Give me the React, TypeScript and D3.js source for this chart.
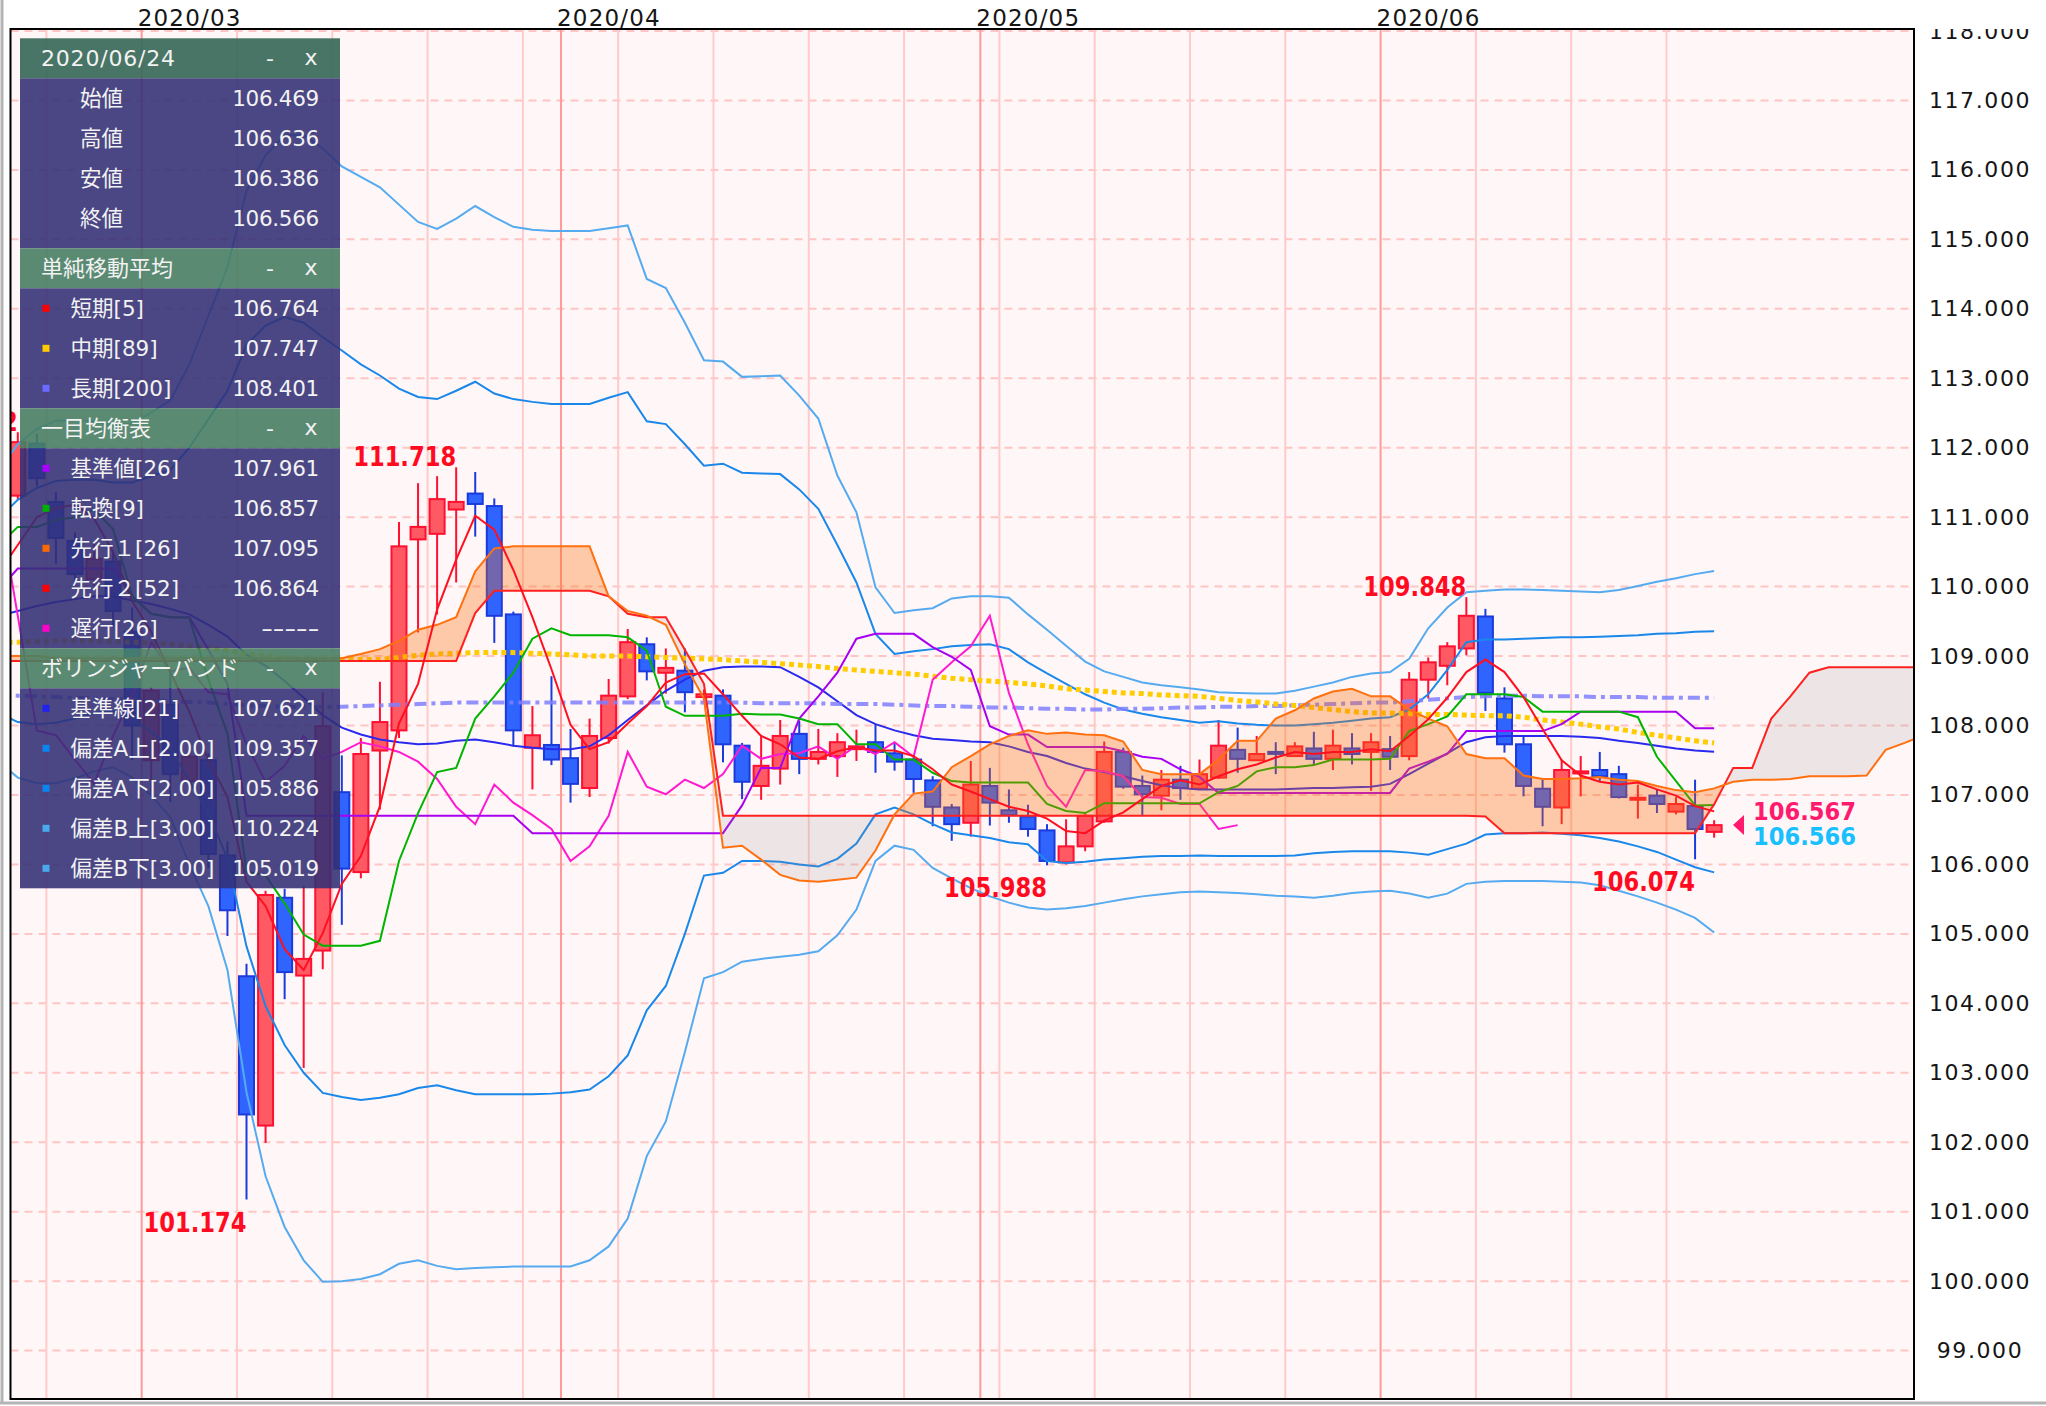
import React from 'react';
import * as d3 from 'd3';

// USD/JPY daily, 2020/02/19 .. 2020/06/24 (weekdays)
const firstDay = '2020-02-19';
const lastDay = '2020-06-24';

const opens = [
  109.90, 111.31, 112.06, 111.22, 110.66, 110.11, 110.36, 109.35, 107.50, 108.30,
  107.20, 107.50, 106.13, 104.39, 102.24, 105.52, 104.40, 104.76, 107.04, 105.89,
  107.64, 107.93, 110.68, 110.76, 111.11, 111.34, 111.16, 109.60, 107.68, 107.72,
  107.53, 107.10, 107.82, 108.42, 109.17, 108.76, 108.79, 108.41, 108.43, 107.71,
  107.13, 107.38, 107.88, 107.52, 107.56, 107.66, 107.76, 107.60, 107.51, 107.21,
  106.82, 106.60, 107.13, 106.78, 106.69, 106.49, 106.03, 106.26, 106.62, 107.62,
  107.13, 106.99, 107.22, 107.09, 107.25, 107.65, 107.50, 107.62, 107.56, 107.67,
  107.52, 107.67, 107.62, 107.66, 107.56, 108.66, 108.86, 109.11, 109.57, 108.39,
  107.73, 107.09, 106.82, 107.31, 107.36, 107.30, 106.94, 106.99, 106.76, 106.84,
  106.469,
];
const highs = [
  111.59, 112.222, 112.20, 111.36, 110.78, 110.62, 110.50, 109.70, 108.55, 108.80,
  107.70, 107.60, 106.33, 104.57, 105.62, 105.65, 105.69, 108.48, 107.57, 107.82,
  108.63, 110.93, 111.49, 111.59, 111.718, 111.65, 111.27, 109.64, 108.28, 108.71,
  107.95, 108.10, 108.67, 109.39, 109.27, 109.11, 109.11, 108.52, 108.52, 107.75,
  107.86, 108.08, 108.07, 107.95, 107.89, 107.94, 108.02, 107.76, 107.56, 107.27,
  106.87, 107.49, 107.39, 107.08, 106.86, 106.58, 106.65, 106.74, 107.77, 107.68,
  107.28, 107.36, 107.42, 107.51, 108.08, 107.97, 107.85, 107.76, 107.76, 107.91,
  107.94, 107.89, 107.89, 107.85, 108.77, 108.98, 109.20, 109.848, 109.68, 108.55,
  107.85, 107.23, 107.51, 107.56, 107.62, 107.42, 107.15, 107.08, 106.97, 107.22,
  106.636,
];
const lows = [
  109.85, 111.25, 111.45, 110.33, 110.00, 110.00, 109.43, 107.50, 107.00, 106.90,
  107.00, 105.95, 104.97, 101.174, 101.99, 104.06, 103.07, 104.49, 105.13, 105.80,
  106.79, 107.82, 109.34, 109.60, 110.06, 110.72, 109.19, 107.70, 107.08, 107.43,
  106.89, 106.97, 107.74, 108.38, 108.65, 108.46, 108.19, 108.36, 107.47, 106.94,
  106.93, 107.15, 107.30, 107.44, 107.26, 107.49, 107.32, 107.35, 107.03, 106.55,
  106.34, 106.40, 106.56, 106.60, 106.40, 105.988, 106.00, 106.19, 106.60, 107.09,
  106.71, 106.78, 106.93, 107.07, 107.23, 107.32, 107.49, 107.30, 107.55, 107.43,
  107.36, 107.44, 107.06, 107.36, 107.50, 108.39, 108.58, 109.01, 108.21, 107.61,
  106.98, 106.55, 106.58, 106.98, 107.19, 106.95, 106.66, 106.74, 106.72, 106.074,
  106.386,
];
const closes = [
  111.40, 112.08, 111.56, 110.70, 110.18, 110.40, 109.65, 108.00, 108.50, 107.30,
  107.55, 106.15, 105.34, 102.40, 105.56, 104.45, 104.64, 107.99, 105.94, 107.59,
  108.05, 110.58, 110.86, 111.26, 111.22, 111.19, 109.58, 107.93, 107.86, 107.51,
  107.16, 107.85, 108.43, 109.20, 108.78, 108.83, 108.48, 108.45, 107.73, 107.19,
  107.42, 107.85, 107.52, 107.62, 107.76, 107.70, 107.62, 107.48, 107.23, 106.83,
  106.58, 107.15, 106.89, 106.71, 106.51, 106.05, 106.26, 106.70, 107.62, 107.12,
  107.01, 107.22, 107.10, 107.30, 107.71, 107.52, 107.59, 107.60, 107.70, 107.52,
  107.71, 107.59, 107.76, 107.55, 108.66, 108.91, 109.14, 109.58, 108.47, 107.73,
  107.13, 106.83, 107.36, 107.34, 107.27, 106.97, 106.96, 106.87, 106.87, 106.51,
  106.566,
];

// simple moving averages
const sma5 = [
  110.20, 110.60, 111.00, 111.13, 111.18, 110.98, 110.50, 109.79, 109.35, 108.77,
  108.20, 107.50, 106.97, 105.75, 105.40, 104.78, 104.48, 105.01, 105.72, 106.12,
  106.84, 108.03, 108.60, 109.67, 110.39, 111.02, 110.82, 110.24, 109.56, 108.81,
  108.01, 107.66, 107.76, 108.03, 108.28, 108.62, 108.74, 108.75, 108.45, 108.14,
  107.85, 107.73, 107.54, 107.52, 107.63, 107.69, 107.64, 107.64, 107.56, 107.37,
  107.15, 107.05, 106.94, 106.83, 106.77, 106.66, 106.48, 106.45, 106.63, 106.75,
  106.94, 107.13, 107.21, 107.15, 107.27, 107.37, 107.44, 107.54, 107.62, 107.59,
  107.62, 107.62, 107.66, 107.63, 107.85, 108.09, 108.40, 108.77, 108.95, 108.77,
  108.41, 107.95, 107.50, 107.28, 107.19, 107.15, 107.18, 107.08, 106.99, 106.84,
  106.764,
];
const sma89 = [
  109.20, 109.20, 109.21, 109.22, 109.22, 109.22, 109.21, 109.20, 109.19, 109.17,
  109.15, 109.12, 109.08, 109.03, 109.00, 108.97, 108.95, 108.95, 108.95, 108.95,
  108.95, 108.98, 109.01, 109.03, 109.04, 109.05, 109.05, 109.05, 109.04, 109.03,
  109.02, 109.00, 109.00, 109.00, 108.99, 108.98, 108.97, 108.96, 108.95, 108.93,
  108.91, 108.89, 108.87, 108.85, 108.82, 108.80, 108.78, 108.76, 108.74, 108.71,
  108.68, 108.66, 108.64, 108.62, 108.60, 108.57, 108.53, 108.51, 108.49, 108.47,
  108.46, 108.44, 108.43, 108.42, 108.39, 108.36, 108.34, 108.31, 108.29, 108.26,
  108.23, 108.20, 108.18, 108.18, 108.17, 108.16, 108.16, 108.15, 108.14, 108.14,
  108.12, 108.08, 108.05, 108.02, 107.98, 107.95, 107.90, 107.86, 107.82, 107.78,
  107.747,
];
const sma200 = [
  108.44, 108.43, 108.42, 108.41, 108.40, 108.39, 108.38, 108.37, 108.36, 108.35,
  108.34, 108.33, 108.31, 108.29, 108.28, 108.27, 108.27, 108.27, 108.27, 108.28,
  108.29, 108.30, 108.31, 108.32, 108.33, 108.33, 108.33, 108.33, 108.33, 108.33,
  108.33, 108.33, 108.33, 108.33, 108.33, 108.33, 108.33, 108.33, 108.33, 108.33,
  108.32, 108.32, 108.32, 108.32, 108.31, 108.31, 108.31, 108.30, 108.29, 108.28,
  108.28, 108.27, 108.26, 108.26, 108.25, 108.24, 108.24, 108.23, 108.23, 108.24,
  108.24, 108.25, 108.26, 108.26, 108.27, 108.27, 108.28, 108.28, 108.29, 108.30,
  108.31, 108.32, 108.33, 108.33, 108.35, 108.37, 108.39, 108.41, 108.42, 108.43,
  108.43, 108.42, 108.42, 108.42, 108.41, 108.41, 108.41, 108.40, 108.40, 108.40,
  108.401,
];

// ichimoku
const tenkan = [
  110.60, 110.86, 110.86, 110.96, 111.00, 111.11, 110.83, 109.86, 109.61, 109.56,
  109.55, 108.66, 107.88, 105.90, 105.84, 105.44, 104.99, 104.83, 104.83, 104.83,
  104.90, 106.05, 106.74, 107.33, 107.39, 108.10, 108.42, 108.76, 109.25, 109.40,
  109.30, 109.30, 109.30, 109.27, 109.08, 108.27, 108.14, 108.14, 108.14, 108.17,
  108.16, 108.16, 108.10, 108.02, 108.02, 107.73, 107.73, 107.51, 107.51, 107.32,
  107.20, 107.18, 107.18, 107.18, 107.18, 106.87, 106.77, 106.74, 106.88, 106.88,
  106.88, 106.88, 106.88, 106.88, 107.04, 107.13, 107.34, 107.40, 107.40, 107.43,
  107.51, 107.51, 107.51, 107.52, 107.92, 108.02, 108.13, 108.45, 108.45, 108.45,
  108.41, 108.20, 108.20, 108.20, 108.20, 108.20, 108.12, 107.55, 107.20, 106.85,
  106.857,
];
const kijun = [
  109.95, 110.26, 110.26, 110.26, 110.26, 110.26, 110.26, 109.86, 109.61, 109.56,
  109.56, 109.09, 108.60, 106.70, 106.70, 106.70, 106.70, 106.70, 106.70, 106.70,
  106.70, 106.70, 106.70, 106.70, 106.70, 106.70, 106.70, 106.70, 106.45, 106.45,
  106.45, 106.45, 106.45, 106.45, 106.45, 106.45, 106.45, 106.45, 106.45, 106.85,
  107.39, 107.39, 108.10, 108.42, 108.76, 109.25, 109.32, 109.32, 109.32, 109.13,
  108.99, 108.80, 107.99, 107.87, 107.87, 107.69, 107.69, 107.69, 107.69, 107.63,
  107.55, 107.52, 107.37, 107.26, 107.03, 107.03, 107.03, 107.03, 107.03, 107.03,
  107.03, 107.03, 107.03, 107.03, 107.38, 107.48, 107.59, 107.92, 107.92, 107.92,
  107.92, 107.92, 108.02, 108.20, 108.20, 108.20, 108.20, 108.20, 108.20, 107.96,
  107.961,
];
// leading spans, already plotted 25 bars ahead (first value sits on 2020/02/19)
const senkouA = [
  109.00, 109.00, 109.00, 108.97, 108.97, 108.97, 108.97, 108.97, 108.97, 108.97,
  108.97, 108.97, 108.97, 108.97, 108.97, 108.97, 108.97, 108.97, 108.97, 109.03,
  109.10, 109.22, 109.38, 109.45, 109.56, 110.22, 110.55, 110.58, 110.58, 110.58,
  110.58, 110.58, 109.86, 109.65, 109.58, 109.45, 108.88, 108.39, 106.24, 106.27,
  106.07, 105.85, 105.77, 105.75, 105.78, 105.81, 106.20, 106.72, 107.02, 107.05,
  107.40, 107.56, 107.73, 107.85, 107.93, 107.88, 107.90, 107.87, 107.86, 107.77,
  107.36, 107.30, 107.30, 107.30, 107.51, 107.78, 107.78, 108.10, 108.22, 108.39,
  108.49, 108.53, 108.42, 108.42, 108.23, 108.10, 107.99, 107.59, 107.53, 107.53,
  107.28, 107.23, 107.23, 107.24, 107.26, 107.22, 107.20, 107.13, 107.07, 107.04,
  107.095, 107.19, 107.22, 107.22, 107.23, 107.27, 107.27, 107.27, 107.28, 107.65,
  107.75, 107.86, 108.19,
];
const senkouB = [
  108.93, 108.93, 108.93, 108.93, 108.93, 108.93, 108.93, 108.93, 108.93, 108.93,
  108.93, 108.93, 108.93, 108.93, 108.93, 108.93, 108.93, 108.93, 108.93, 108.93,
  108.93, 108.93, 108.93, 108.93, 108.93, 109.62, 109.94, 109.94, 109.94, 109.94,
  109.94, 109.94, 109.86, 109.61, 109.56, 109.56, 109.09, 108.60, 106.70, 106.70,
  106.70, 106.70, 106.70, 106.70, 106.70, 106.70, 106.70, 106.70, 106.70, 106.70,
  106.70, 106.70, 106.70, 106.70, 106.70, 106.70, 106.70, 106.70, 106.70, 106.70,
  106.70, 106.70, 106.70, 106.70, 106.70, 106.70, 106.70, 106.70, 106.70, 106.70,
  106.70, 106.70, 106.70, 106.70, 106.70, 106.70, 106.70, 106.70, 106.69, 106.45,
  106.45, 106.45, 106.45, 106.45, 106.45, 106.45, 106.45, 106.45, 106.45, 106.45,
  106.864, 107.39, 107.39, 108.10, 108.42, 108.76, 108.84, 108.84, 108.84, 108.84,
  108.84, 108.84, 108.84,
];
// lagging span, plotted 25 bars back (first value sits on 2020/02/19)
const chikou = [
  111.19, 109.58, 107.93, 107.86, 107.51, 107.16, 107.85, 108.43, 109.20, 108.78,
  108.83, 108.48, 108.45, 107.73, 107.19, 107.42, 107.85, 107.52, 107.62, 107.76,
  107.70, 107.62, 107.48, 107.23, 106.83, 106.58, 107.15, 106.89, 106.71, 106.51,
  106.05, 106.26, 106.70, 107.62, 107.12, 107.01, 107.22, 107.10, 107.30, 107.71,
  107.52, 107.59, 107.60, 107.70, 107.52, 107.71, 107.59, 107.76, 107.55, 108.66,
  108.91, 109.14, 109.58, 108.47, 107.73, 107.13, 106.83, 107.36, 107.34, 107.27,
  106.97, 106.96, 106.87, 106.87, 106.51, 106.566,
];

// bollinger bands (21)
const bbMid = [
  109.58, 109.65, 109.72, 109.78, 109.82, 109.86, 109.86, 109.80, 109.75, 109.68,
  109.60, 109.45, 109.28, 109.02, 108.86, 108.64, 108.40, 108.15, 107.97, 107.87,
  107.80, 107.76, 107.73, 107.74, 107.78, 107.80, 107.76, 107.71, 107.68, 107.66,
  107.66, 107.70, 107.86, 108.08, 108.29, 108.50, 108.66, 108.79, 108.84, 108.85,
  108.85, 108.84, 108.70, 108.55, 108.35, 108.15, 108.02, 107.93, 107.86, 107.81,
  107.79, 107.77, 107.76, 107.70, 107.62, 107.56, 107.46, 107.38, 107.33, 107.27,
  107.20, 107.14, 107.10, 107.08, 107.08, 107.08, 107.08, 107.08, 107.09, 107.10,
  107.10, 107.11, 107.12, 107.16, 107.30, 107.45, 107.60, 107.76, 107.83, 107.85,
  107.85, 107.85, 107.85, 107.84, 107.82, 107.78, 107.75, 107.71, 107.67, 107.64,
  107.621,
];
const bbUp2 = [
  110.98, 111.25, 111.42, 111.52, 111.54, 111.54, 111.50, 111.50, 111.59, 111.68,
  112.00, 112.41, 112.82, 113.48, 113.76, 113.88, 113.80, 113.59, 113.40, 113.20,
  113.04, 112.85, 112.73, 112.70, 112.82, 112.95, 112.78, 112.70, 112.66, 112.63,
  112.63, 112.63, 112.72, 112.80, 112.38, 112.34, 112.05, 111.74, 111.77, 111.64,
  111.63, 111.62, 111.40, 111.12, 110.60, 110.06, 109.32, 109.03, 109.07, 109.10,
  109.14, 109.16, 109.17, 109.10, 108.91, 108.75, 108.60, 108.45, 108.33, 108.23,
  108.17, 108.12, 108.08, 108.04, 108.06, 108.03, 108.01, 108.00, 108.00, 108.02,
  108.04, 108.07, 108.10, 108.12, 108.23, 108.45, 108.80, 109.20, 109.24, 109.24,
  109.25, 109.26, 109.27, 109.27, 109.28, 109.29, 109.30, 109.32, 109.33, 109.35,
  109.357,
];
const bbDn2 = [
  108.18, 108.05, 108.02, 108.04, 108.10, 108.18, 108.22, 108.10, 107.91, 107.68,
  107.20, 106.75, 106.08, 104.82, 103.96, 103.40, 103.00, 102.71, 102.65, 102.61,
  102.64, 102.69, 102.78, 102.82, 102.75, 102.69, 102.69, 102.69, 102.69, 102.70,
  102.72, 102.76, 102.95, 103.25, 103.90, 104.25, 105.00, 105.84, 105.88, 106.05,
  106.05, 106.04, 106.00, 105.97, 106.08, 106.30, 106.72, 106.82, 106.72, 106.58,
  106.46, 106.42, 106.38, 106.32, 106.29, 106.05, 106.02, 106.04, 106.07, 106.09,
  106.11, 106.12, 106.12, 106.13, 106.12, 106.12, 106.12, 106.12, 106.13, 106.16,
  106.18, 106.19, 106.19, 106.19, 106.17, 106.14, 106.22, 106.30, 106.43, 106.45,
  106.45, 106.46, 106.44, 106.42, 106.38, 106.33, 106.26, 106.18, 106.07, 105.96,
  105.886,
];
const bbUp3 = [
  111.68, 112.05, 112.27, 112.39, 112.40, 112.38, 112.32, 112.35, 112.51, 112.68,
  113.20, 113.90, 114.60, 115.70, 116.21, 116.50, 116.50, 116.31, 116.05, 115.90,
  115.75, 115.50, 115.25, 115.15, 115.30, 115.48, 115.32, 115.18, 115.14, 115.12,
  115.12, 115.12, 115.16, 115.20, 114.43, 114.30, 113.80, 113.26, 113.24, 113.02,
  113.03, 113.04, 112.75, 112.42, 111.60, 111.07, 109.99, 109.62, 109.66, 109.69,
  109.83, 109.86, 109.86, 109.84, 109.60, 109.38, 109.15, 108.92, 108.78, 108.70,
  108.62, 108.58, 108.55, 108.52, 108.48, 108.47, 108.46, 108.46, 108.50, 108.56,
  108.62, 108.70, 108.75, 108.77, 108.96, 109.40, 109.70, 109.92, 109.94, 109.96,
  109.96, 109.95, 109.94, 109.93, 109.92, 109.95, 110.01, 110.07, 110.12, 110.18,
  110.224,
];
const bbDn3 = [
  107.48, 107.25, 107.17, 107.17, 107.24, 107.34, 107.40, 107.25, 106.99, 106.68,
  106.00, 105.40, 104.48, 102.72, 101.51, 100.78, 100.30, 99.99, 100.00, 100.03,
  100.10, 100.25, 100.30, 100.22, 100.17, 100.19, 100.20, 100.21, 100.21, 100.21,
  100.21, 100.30, 100.50, 100.90, 101.80, 102.30, 103.30, 104.36, 104.45, 104.60,
  104.64, 104.67, 104.70, 104.75, 104.98, 105.35, 106.05, 106.27, 106.21, 105.95,
  105.80, 105.66, 105.54, 105.45, 105.38, 105.35, 105.37, 105.40, 105.45, 105.50,
  105.54, 105.57, 105.60, 105.61, 105.60, 105.59, 105.57, 105.55, 105.54, 105.52,
  105.55, 105.59, 105.61, 105.62, 105.58, 105.52, 105.58, 105.72, 105.75, 105.76,
  105.76, 105.76, 105.75, 105.74, 105.70, 105.62, 105.54, 105.45, 105.35, 105.23,
  105.019,
];

// swing highs / lows that carry a price label (bar index)
const extremes = [
  { day: 1, kind: 'high' },
  { day: 24, kind: 'high' },
  { day: 77, kind: 'high' },
  { day: 13, kind: 'low' },
  { day: 55, kind: 'low' },
  { day: 89, kind: 'low' },
];
const quoteTexts = ['106.567', '106.566'];
const priceTicks = d3.range(99, 119);

const W = 2046;
const H = 1406;
const PL = 10.5;
const PR = 1914;
const PT = 29;
const PB = 1399;
const STEP = 19.06;

const RED = '#ff1030';
const BLUE = '#1a3adc';

export default function App() {
  const dates = d3.utcDay
    .range(new Date(firstDay), d3.utcDay.offset(new Date(lastDay), 1))
    .filter((d) => d.getUTCDay() !== 0 && d.getUTCDay() !== 6);
  const last = closes.length - 1;

  const x = d3.scaleLinear().domain([0, 90]).range([561 - 29.5 * STEP, 561 + 60.5 * STEP]);
  const y = d3.scaleLinear().domain([99, 118]).range([1350.6, 31]);

  const line = (vals: number[]) =>
    d3.line<number>().x((_, i) => x(i)).y((v) => y(v))(vals) || '';

  // separators (week start = light, month start = dark)
  const seps: { pos: number; month: boolean; label: string }[] = [];
  dates.forEach((d, i) => {
    if (i === 0) return;
    const prev = dates[i - 1];
    const month = d.getUTCMonth() !== prev.getUTCMonth();
    if (month || d.getUTCDay() === 1) {
      seps.push({ pos: x(i - 0.5), month, label: d3.utcFormat('%Y/%m')(d) });
    }
  });

  // kumo
  const nK = senkouB.length;
  const kumoArea = d3
    .area<number>()
    .x((_, i) => x(i))
    .y0((_, i) => y(senkouB[i]))
    .y1((v) => y(v))(senkouA.slice(0, nK)) || '';
  const aboveB = d3.area<number>().x((_, i) => x(i)).y0(0).y1((v) => y(v))(senkouB) || '';
  const belowB = d3.area<number>().x((_, i) => x(i)).y0(H).y1((v) => y(v))(senkouB) || '';

  const fmt = (v: number) => v.toFixed(3);

  // legend layout
  const groups = [
    {
      title: d3.utcFormat('%Y/%m/%d')(dates[last]),
      first: true,
      rows: [
        { label: '始値', value: fmt(opens[last]) },
        { label: '高値', value: fmt(highs[last]) },
        { label: '安値', value: fmt(lows[last]) },
        { label: '終値', value: fmt(closes[last]) },
      ],
    },
    {
      title: '単純移動平均',
      rows: [
        { label: '短期[5]', color: '#ff0000', value: fmt(sma5[last]) },
        { label: '中期[89]', color: '#ffcc00', value: fmt(sma89[last]) },
        { label: '長期[200]', color: '#6a6aff', value: fmt(sma200[last]) },
      ],
    },
    {
      title: '一目均衡表',
      rows: [
        { label: '基準値[26]', color: '#aa00ff', value: fmt(kijun[last]) },
        { label: '転換[9]', color: '#00b000', value: fmt(tenkan[last]) },
        { label: '先行１[26]', color: '#ff6a00', value: fmt(senkouA[last]) },
        { label: '先行２[52]', color: '#ff0000', value: fmt(senkouB[last]) },
        { label: '遅行[26]', color: '#ff00cc', value: '-----' },
      ],
    },
    {
      title: 'ボリンジャーバンド',
      rows: [
        { label: '基準線[21]', color: '#2222ee', value: fmt(bbMid[last]) },
        { label: '偏差A上[2.00]', color: '#0a84ee', value: fmt(bbUp2[last]) },
        { label: '偏差A下[2.00]', color: '#0a84ee', value: fmt(bbDn2[last]) },
        { label: '偏差B上[3.00]', color: '#4aa8ec', value: fmt(bbUp3[last]) },
        { label: '偏差B下[3.00]', color: '#4aa8ec', value: fmt(bbDn3[last]) },
      ],
    },
  ];
  const legendEls: React.ReactNode[] = [];
  let cy = 38.3;
  const LX = 20;
  const LW = 320;
  const RH = 40;
  groups.forEach((g, gi) => {
    legendEls.push(
      <g key={'h' + gi}>
        <rect x={LX} y={cy} width={LW} height={RH} fill={g.first ? 'rgba(58,106,90,0.93)' : 'rgba(72,126,99,0.9)'} />
        <text x={41} y={cy + RH / 2} dominantBaseline="central" fontSize={22} letterSpacing={g.first ? 0.8 : 0} fill="#f2f2f2">{g.title}</text>
        <text x={270} y={cy + RH / 2} dominantBaseline="central" textAnchor="middle" fontSize={22} fill="#f2f2f2">-</text>
        <text x={311} y={cy + RH / 2 - 1} dominantBaseline="central" textAnchor="middle" fontSize={22} fill="#f2f2f2">x</text>
      </g>
    );
    cy += RH;
    const bodyH = g.rows.length * RH + (g.first ? 10 : 0);
    legendEls.push(<rect key={'b' + gi} x={LX} y={cy} width={LW} height={bodyH} fill="rgba(50,47,116,0.88)" />);
    g.rows.forEach((r: any, ri) => {
      const ry = cy + ri * RH + RH / 2;
      legendEls.push(
        <g key={'r' + gi + '-' + ri}>
          {r.color && <rect x={42.5} y={ry - 3.5} width={7} height={7} fill={r.color} />}
          <text x={r.color ? 70.5 : 80} y={ry} dominantBaseline="central" fontSize={21.5} fill="#f2f2f2">{r.label}</text>
          <text x={319} y={ry} dominantBaseline="central" textAnchor="end" fontSize={21.5} letterSpacing={-0.3} fill="#f2f2f2"
            {...(r.value === '-----' ? { textLength: 58, lengthAdjust: 'spacingAndGlyphs' } : {})}>{r.value}</text>
        </g>
      );
    });
    cy += bodyH;
  });

  const yClose = y(closes[last]);

  return (
    <svg width={W} height={H} viewBox={`0 0 ${W} ${H}`} style={{ position: 'absolute', left: 0, top: 0, background: '#ffffff' }}
      fontFamily="'DejaVu Sans', 'Noto Sans CJK JP', sans-serif">
      <defs>
        <clipPath id="plotClip"><rect x={PL} y={PT} width={PR - PL} height={PB - PT} /></clipPath>
        <clipPath id="axisClip"><rect x={PR} y={PT} width={W - PR} height={PB - PT} /></clipPath>
        <clipPath id="kumoUp"><path d={aboveB} /></clipPath>
        <clipPath id="kumoDn"><path d={belowB} /></clipPath>
      </defs>

      <rect x={PL} y={PT} width={PR - PL} height={PB - PT} fill="#fff7f7" />

      <g clipPath="url(#plotClip)">
        {priceTicks.map((v) => (
          <line key={'g' + v} x1={PL} x2={PR} y1={y(v)} y2={y(v)} stroke="#ffc4c4" strokeWidth={2} strokeDasharray="8,6" />
        ))}
        {seps.map((s, i) => (
          <line key={'s' + i} x1={s.pos} x2={s.pos} y1={PT} y2={PB} stroke={s.month ? '#ff9a9a' : '#ffcaca'} strokeWidth={2} />
        ))}

        {/* candles */}
        {closes.map((c, i) => {
          const o = opens[i];
          const up = c >= o;
          const cx = x(i);
          const top = y(Math.max(o, c));
          const bot = y(Math.min(o, c));
          return (
            <g key={'c' + i}>
              <line x1={cx} x2={cx} y1={y(highs[i])} y2={y(lows[i])} stroke={up ? RED : BLUE} strokeWidth={2} />
              <rect x={cx - 7.5} y={top} width={15} height={Math.max(bot - top, 2)} fill={up ? '#ff5a64' : '#3064ff'} stroke={up ? RED : BLUE} strokeWidth={2} />
            </g>
          );
        })}

        {/* bollinger */}
        <path d={line(bbUp3)} fill="none" stroke="#55aaf0" strokeWidth={2} />
        <path d={line(bbDn3)} fill="none" stroke="#55aaf0" strokeWidth={2} />
        <path d={line(bbUp2)} fill="none" stroke="#1a88ea" strokeWidth={2} />
        <path d={line(bbDn2)} fill="none" stroke="#1a88ea" strokeWidth={2} />
        <path d={line(bbMid)} fill="none" stroke="#2a2aee" strokeWidth={2} />

        {/* long / mid SMA */}
        <path d={line(sma200)} fill="none" stroke="#7f7fff" strokeOpacity={0.85} strokeWidth={4} strokeDasharray="12,5,4,5" />
        <path d={line(sma89)} fill="none" stroke="#ffcc00" strokeWidth={5} strokeDasharray="5,4" />

        {/* ichimoku lines */}
        <path d={line(chikou)} fill="none" stroke="#ff1ad0" strokeWidth={2} />
        <path d={line(kijun)} fill="none" stroke="#a800f0" strokeWidth={2} />
        <path d={line(tenkan)} fill="none" stroke="#00b400" strokeWidth={2} />

        {/* kumo */}
        <g clipPath="url(#kumoUp)">
          <path d={kumoArea} fill="rgba(248,110,10,0.33)" />
        </g>
        <g clipPath="url(#kumoDn)">
          <path d={kumoArea} fill="rgba(140,135,135,0.16)" />
        </g>
        <path d={line(senkouB)} fill="none" stroke="#ff2020" strokeWidth={2} />
        <path d={line(senkouA)} fill="none" stroke="#ff7010" strokeWidth={2} />

        <path d={line(sma5)} fill="none" stroke="#ff1020" strokeWidth={2} />

        {/* swing labels */}
        {extremes.map((e, i) => {
          const hi = e.kind === 'high';
          const v = hi ? highs[e.day] : lows[e.day];
          return (
            <text key={'e' + i} x={x(e.day)} y={hi ? y(v) - 10 : y(v) + 23} textAnchor="end" dominantBaseline="central"
              fontSize={26} fontWeight="bold" fill="#ff0a20" textLength={103} lengthAdjust="spacingAndGlyphs">
              {fmt(v)}
            </text>
          );
        })}

        {/* current price tags */}
        <polygon points={`1733,${yClose} 1744,${yClose - 10} 1744,${yClose + 10}`} fill="#ff1a6e" />
        <text x={1753} y={yClose - 14} dominantBaseline="central" fontSize={25} fontWeight="bold" fill="#ff1a6e" textLength={103} lengthAdjust="spacingAndGlyphs">{quoteTexts[0]}</text>
        <text x={1753} y={yClose + 11} dominantBaseline="central" fontSize={25} fontWeight="bold" fill="#18c0ff" textLength={103} lengthAdjust="spacingAndGlyphs">{quoteTexts[1]}</text>
      </g>

      <rect x={PL} y={PT} width={PR - PL} height={PB - PT} fill="none" stroke="#000" strokeWidth={2} />

      {/* price axis */}
      <g clipPath="url(#axisClip)">
        {priceTicks.map((v) => (
          <text key={'t' + v} x={1980} y={y(v)} textAnchor="middle" dominantBaseline="central" fontSize={22} letterSpacing={1.6} fill="#151515">
            {v.toFixed(3)}
          </text>
        ))}
      </g>

      {/* month labels */}
      {seps.filter((s) => s.month).map((s, i) => (
        <text key={'m' + i} x={s.pos - 4} y={17.5} dominantBaseline="central" fontSize={23} letterSpacing={1.2} fill="#151515">{s.label}</text>
      ))}

      {legendEls}

      <line x1={2} x2={2} y1={0} y2={1404} stroke="#b4b4b4" strokeWidth={3} />
      <line x1={0} x2={W} y1={1403} y2={1403} stroke="#b4b4b4" strokeWidth={3} />
    </svg>
  );
}
